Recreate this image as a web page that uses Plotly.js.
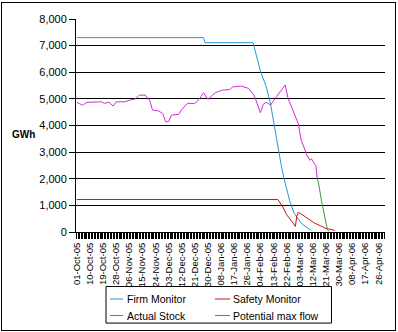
<!DOCTYPE html>
<html>
<head>
<meta charset="utf-8">
<script src="https://cdn.plot.ly/plotly-3.0.1.min.js"></script>
<style>
  html, body { margin: 0; padding: 0; background: #fff; }
  #chart { position: absolute; left: 0; top: 0; width: 398px; height: 332px; }
  #frame { position: absolute; left: 1px; top: 2px; width: 395px; height: 329px;
           border: 1px solid #000; box-sizing: border-box; pointer-events: none; }
</style>
</head>
<body>
<div id="chart"></div>
<div id="frame"></div>
<script>
// ---- Data ----
const seriesNames = ['Firm Monitor', 'Safety Monitor', 'Actual Stock', 'Potential max flow'];
const seriesColors = ['#2596d8', '#d81010', '#d82ad8', '#3a9a3a'];

const firmDates = ['2005-10-01','2005-12-27','2005-12-28','2006-01-30','2006-02-04','2006-02-06',
  '2006-02-08','2006-02-11','2006-02-13','2006-02-15','2006-02-18','2006-02-20','2006-02-22',
  '2006-02-24','2006-02-27','2006-03-01','2006-03-04','2006-03-08','2006-03-11'];
const firmValues = [7300,7300,7110,7110,6050,5770,5470,4800,4130,3450,2600,2050,1600,1200,720,560,330,160,60];

const safetyDates = ['2005-10-01','2006-02-16','2006-02-19','2006-02-22','2006-02-26','2006-02-28',
  '2006-03-01','2006-03-02','2006-03-05','2006-03-10','2006-03-13','2006-03-17','2006-03-21',
  '2006-03-24','2006-03-27'];
const safetyValues = [1220,1220,980,650,370,210,600,740,640,450,340,240,130,100,60];

const actualDates = ['2005-10-01','2005-10-05','2005-10-08','2005-10-13','2005-10-18','2005-10-20',
  '2005-10-23','2005-10-26','2005-10-28','2005-11-03','2005-11-06','2005-11-10','2005-11-13',
  '2005-11-17','2005-11-20','2005-11-22','2005-11-26','2005-11-29','2005-12-01','2005-12-03',
  '2005-12-05','2005-12-10','2005-12-12','2005-12-16','2005-12-21','2005-12-24','2005-12-27',
  '2005-12-30','2006-01-04','2006-01-09','2006-01-14','2006-01-16','2006-01-22','2006-01-27',
  '2006-01-31','2006-02-04','2006-02-06','2006-02-08','2006-02-11','2006-02-15','2006-02-21',
  '2006-02-23','2006-02-27','2006-03-02','2006-03-04','2006-03-08','2006-03-10','2006-03-11',
  '2006-03-14','2006-03-15'];
const actualValues = [4870,4760,4870,4890,4890,4830,4880,4730,4890,4890,4950,4990,5140,
  5140,4950,4580,4550,4450,4140,4140,4390,4420,4600,4830,4830,4980,5230,4980,5230,5330,
  5350,5450,5480,5390,5100,4480,4800,4870,4770,5080,5520,5020,4450,4070,3450,2880,2690,
  2750,2500,2010];

const flowDates = ['2006-03-15','2006-03-16','2006-03-18','2006-03-20','2006-03-22','2006-03-23'];
const flowValues = [2010,1800,1150,560,90,20];

const yTickVals = [0,1000,2000,3000,4000,5000,6000,7000,8000];
const yTitle = 'GWh';

// ---- Traces ----
const seriesX = [firmDates, safetyDates, actualDates, flowDates];
const seriesY = [firmValues, safetyValues, actualValues, flowValues];
const traces = seriesNames.map((n, i) => ({
  type: 'scatter', mode: 'lines', name: n,
  x: seriesX[i], y: seriesY[i],
  line: { color: seriesColors[i], width: 1 },
  showlegend: false, hoverinfo: 'skip'
}));

// ---- Manual legend (2x2 grid, boxed) ----
const px2x = p => (p - 76) / 309;
const px2y = p => (231.6 - p) / 212.6;
const legendCells = [
  { lx0: 110, lx1: 123, tx: 125, y: 298.5 },
  { lx0: 215, lx1: 230, tx: 231, y: 298.5 },
  { lx0: 110, lx1: 123, tx: 125, y: 315 },
  { lx0: 215, lx1: 230, tx: 231, y: 315 }
];
const shapes = [{
  type: 'rect', xref: 'paper', yref: 'paper',
  x0: px2x(106), x1: px2x(331.5), y0: px2y(322.5), y1: px2y(286),
  line: { color: '#000', width: 1 }, fillcolor: 'rgba(0,0,0,0)'
}];
const annotations = [{
  xref: 'paper', yref: 'paper', x: px2x(23.5), y: px2y(134),
  xanchor: 'center', yanchor: 'middle',
  text: '<b>' + yTitle + '</b>', showarrow: false,
  font: { family: 'Liberation Sans, Arial, sans-serif', size: 10, color: '#000' }
}];
seriesNames.forEach((n, i) => {
  const c = legendCells[i];
  shapes.push({ type: 'line', xref: 'paper', yref: 'paper',
    x0: px2x(c.lx0), x1: px2x(c.lx1), y0: px2y(c.y), y1: px2y(c.y),
    line: { color: seriesColors[i], width: 1 } });
  annotations.push({ xref: 'paper', yref: 'paper', x: px2x(c.tx), y: px2y(c.y),
    xanchor: 'left', yanchor: 'middle', text: n, showarrow: false,
    font: { family: 'Liberation Sans, Arial, sans-serif', size: 10.5, color: '#000' } });
});

const layout = {
  width: 398, height: 332,
  margin: { l: 76, r: 13, t: 19, b: 100.4, pad: 0 },
  paper_bgcolor: 'rgba(0,0,0,0)', plot_bgcolor: '#fff',
  font: { family: 'Liberation Sans, Arial, sans-serif', size: 11, color: '#000' },
  showlegend: false,
  xaxis: {
    type: 'date', range: ['2005-09-30 12:00', '2006-04-30 12:00'],
    tick0: '2005-10-01', dtick: 9 * 86400000, tickformat: '%d-%b-%y',
    tickangle: -90, tickfont: { size: 9.5 },
    ticks: 'outside', ticklen: 6, tickcolor: '#000', tickwidth: 1,
    minor: { dtick: 86400000, tick0: '2005-10-01', ticks: 'outside', ticklen: 6,
             tickcolor: '#000', tickwidth: 1, showgrid: false },
    showgrid: false, showline: true, linecolor: '#000', linewidth: 1,
    zeroline: false, fixedrange: true
  },
  yaxis: {
    range: [0, 8000], tickvals: yTickVals, tickformat: ',d',
    ticks: 'outside', ticklen: 6, tickcolor: '#000', tickwidth: 1,
    showgrid: true, gridcolor: '#000', gridwidth: 1,
    showline: true, linecolor: '#000', linewidth: 1,
    zeroline: false, fixedrange: true
  },
  shapes: shapes,
  annotations: annotations
};

Plotly.newPlot('chart', traces, layout, { displayModeBar: false, staticPlot: true });
</script>
</body>
</html>
